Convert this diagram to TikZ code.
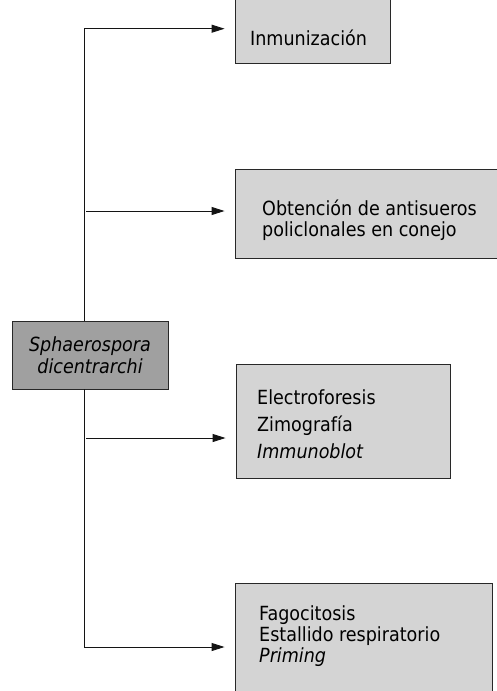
\documentclass[tikz,border=0pt]{standalone}
\usepackage{fontspec}
\setmainfont{DejaVu Sans Condensed}[ItalicFont={DejaVu Sans Condensed Oblique}]
\usepackage{tikz}
\usetikzlibrary{positioning,arrows.meta,calc}
\definecolor{bFill}{RGB}{212,212,212}
\definecolor{sFill}{RGB}{160,160,160}
\definecolor{bLine}{RGB}{40,40,40}
\definecolor{tLine}{RGB}{20,20,20}
\tikzset{
  box/.style={rectangle, draw=bLine, fill=bFill, line width=0.9pt, inner sep=0pt},
  spbox/.style={box, fill=sFill, align=center, font=\fontsize{19.5}{22}\selectfont\itshape},
  txt/.style={anchor=north west, align=left, inner sep=0pt, font=\fontsize{19.5}{21.5}\selectfont},
  flow/.style={-{Triangle[length=13pt,width=8pt]}, draw=tLine, line width=0.9pt, shorten >=10pt},
}

\begin{document}
\begin{tikzpicture}[x=1pt,y=1pt]
  \clip (0,0) rectangle (497,-691);
  \fill[white] (0,0) rectangle (497,-691);

  % source box
  \node[spbox, minimum width=156pt, minimum height=68pt] (sp) at (90,-355)
    {Sphaerospora\\dicentrarchi};

  % target boxes
  \node[box, minimum width=155pt, minimum height=69pt] (inm) at (312.5,-28.5){};
  \node[box, minimum width=275pt, minimum height=89pt] (obt) at (372.5,-213.5){};
  \node[box, minimum width=214pt, minimum height=114pt] (ele) at (343,-421){};
  \node[box, minimum width=257pt, minimum height=122pt] (fag) at (363.5,-644){};

  % box texts
  \node[txt] (inm-t) at (250,-30){Inmunización};
  \node[txt] (obt-t) at (262,-199.5){Obtención de antisueros\\policlonales en conejo};
  \node[txt, font=\fontsize{19.5}{27}\selectfont] (ele-t) at (257,-389.5)
    {Electroforesis\\Zimografía\\\textit{Immunoblot}};
  \node[txt, font=\fontsize{19.5}{21}\selectfont] (fag-t) at (259,-605)
    {Fagocitosis\\Estallido respiratorio\\\textit{Priming}};

  % branch points
  \coordinate (t1) at (84,-28.7);
  \coordinate (t2) at (86,-211);
  \coordinate (t3) at (86,-438);
  \coordinate (t4) at (84,-647);

  % connectors
  \draw[flow] (sp.north -| t1) |- (inm.west |- t1);
  \draw[flow] (t2) -- (obt.west |- t2);
  \draw[flow] (t3) -- (ele.west |- t3);
  \draw[flow] (sp.south -| t4) |- (fag.west |- t4);
\end{tikzpicture}
\end{document}
